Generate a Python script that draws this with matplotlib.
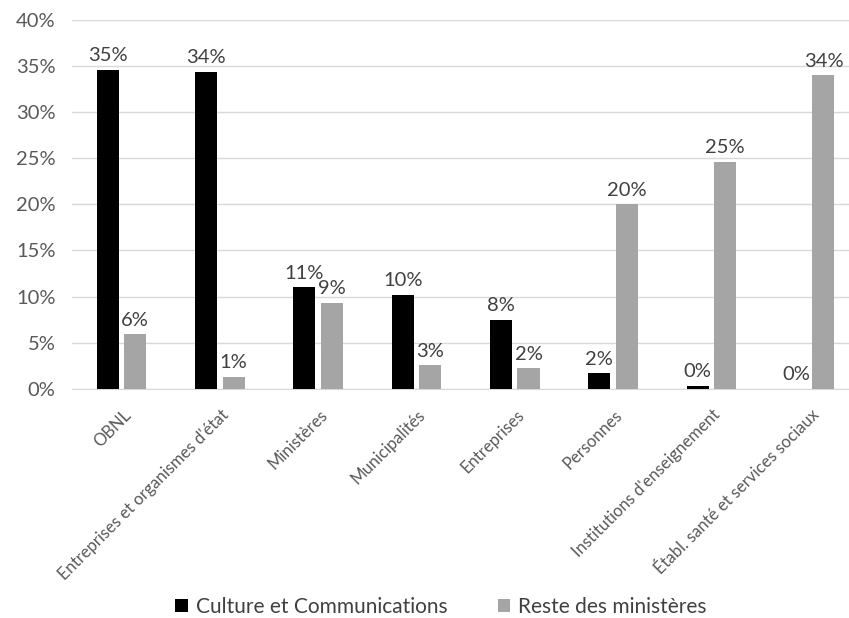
import numpy as np
import matplotlib.pyplot as plt
from matplotlib.ticker import FuncFormatter

categories = ['OBNL', "Entreprises et organismes d'état", 'Ministères', 'Municipalités',
              'Entreprises', 'Personnes', "Institutions d'enseignement",
              'Établ. santé et services sociaux']
culture = [34.6, 34.4, 11.0, 10.2, 7.5, 1.7, 0.3, 0.0]
reste = [5.9, 1.3, 9.3, 2.55, 2.2, 20.0, 24.6, 34.0]

plt.rcParams['font.family'] = ['Lato', 'DejaVu Sans']

fig = plt.figure(figsize=(8.49, 6.18), dpi=100)
ax = fig.add_axes([0.0852, 0.371, 0.9148, 0.5966])

x = np.arange(len(categories))
w = 0.224
off = 0.14
b1 = ax.bar(x - off, culture, w, color='black', label='Culture et Communications', zorder=3)
b2 = ax.bar(x + off, reste, w, color='#A5A5A5', label='Reste des ministères', zorder=3)

for bars, vals in ((b1, culture), (b2, reste)):
    for rect, v in zip(bars, vals):
        ax.text(rect.get_x() + rect.get_width() / 2, v + 0.6, f'{v:.0f}%',
                ha='center', va='bottom', fontsize=14.5, color='#404040')

ax.set_ylim(0, 40)
ax.set_xlim(-0.5, 7.4)
ax.set_yticks(range(0, 41, 5))
ax.yaxis.set_major_formatter(FuncFormatter(lambda v, p: f'{v:.0f}%'))
ax.grid(axis='y', color='#D9D9D9', linewidth=1, zorder=0)
for s in ['top', 'right', 'left']:
    ax.spines[s].set_visible(False)
ax.spines['bottom'].set_color('#D9D9D9')
ax.tick_params(axis='both', length=0, colors='#595959', labelsize=14.5)
ax.tick_params(axis='y', pad=12)
ax.set_xticks(x + 0.01)
ax.set_xticklabels(categories, rotation=45, ha='right', rotation_mode='anchor', fontsize=12)
ax.tick_params(axis='x', pad=13)

fig.legend(loc='center', bbox_to_anchor=(441 / 849, 1 - 607 / 618), ncol=2, frameon=False,
           fontsize=15, handlelength=0.6, handleheight=0.6, columnspacing=2.4,
           handletextpad=0.4, labelcolor='#404040')

fig.savefig('out.png', dpi=100)
